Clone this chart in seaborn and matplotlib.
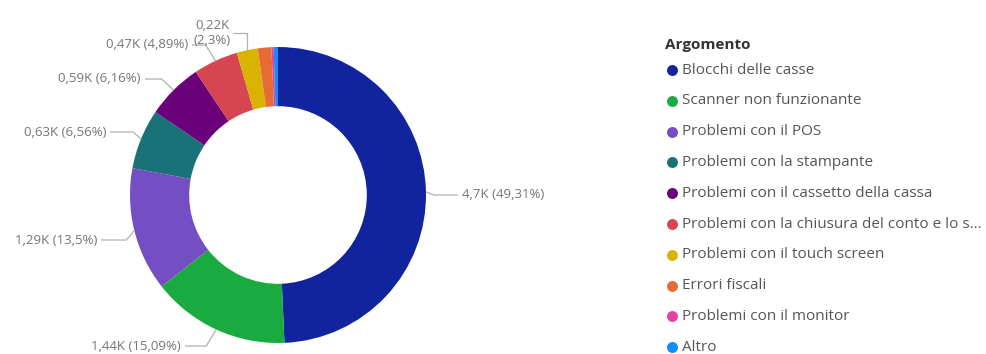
import numpy as np
import matplotlib
matplotlib.use("Agg")
import matplotlib.pyplot as plt
import seaborn as sns

# Ticket counts per topic, in thousands
categories = [
    "Blocchi delle casse",
    "Scanner non funzionante",
    "Problemi con il POS",
    "Problemi con la stampante",
    "Problemi con il cassetto della cassa",
    "Problemi con la chiusura del conto e lo s...",
    "Problemi con il touch screen",
    "Errori fiscali",
    "Problemi con il monitor",
    "Altro",
]
values_k = [4.699, 1.438, 1.287, 0.6256, 0.587, 0.466, 0.219, 0.140, 0.024, 0.0444]
colors = ["#12239E", "#1AAB40", "#744EC2", "#197278", "#6B007B",
          "#D64550", "#D9B300", "#E66C37", "#E044A7", "#118DFF"]
legend_title = "Argomento"

# Data-label placement (pixels): text edge x, text centre y, elbow offset, alignment
label_px = [(462, 195, 8, "left"), (181, 346, -10, "right"), (97, 240, -8, "right"),
            (106, 132, -8, "right"), (141, 79, -12, "right"), (188, 45, -10, "right"),
            (231, 33, 0, "right")]

sns.set_theme(style="white")
plt.rcParams["font.family"] = ["Open Sans", "DejaVu Sans"]
palette = sns.color_palette(colors)

W, H = 986, 354
CX, CY, R = 278, 195, 148  # donut centre and outer radius in pixels


def to_data(px, py):
    return (px - CX) / R, (CY - py) / R


fig = plt.figure(figsize=(W / 100, H / 100), dpi=100)
ax = fig.add_axes([0, 0, 1, 1])
wedges, _ = ax.pie(values_k, colors=palette, startangle=90, counterclock=False,
                   radius=1.0, wedgeprops=dict(width=0.4, linewidth=0))
ax.set_xlim(-CX / R, (W - CX) / R)
ax.set_ylim((CY - H) / R, CY / R)
ax.set_aspect("equal")
ax.axis("off")

total = sum(values_k)


def fmt(v, nd=2):
    s = f"{v:.{nd}f}".rstrip("0").rstrip(".")
    return s.replace(".", ",")


label_col = "#757575"
line_col = "#B0B0B0"
for i, (w, v) in enumerate(zip(wedges, values_k)):
    if i >= len(label_px):
        break
    ang = np.deg2rad((w.theta1 + w.theta2) / 2)
    ax_, ay_ = np.cos(ang) * 1.0, np.sin(ang) * 1.0
    tx, ty, dx, ha = label_px[i]
    txd, tyd = to_data(tx, ty)
    pct = v / total * 100
    text = f"{fmt(v)}K ({fmt(pct)}%)"
    if i == 6:
        text = f"{fmt(v)}K\n({fmt(pct)}%)"
    ax.text(txd, tyd, text, ha=ha, va="center", fontsize=9.5, color=label_col,
            multialignment="center")
    gap = 4 / R
    start_x = txd - gap if ha == "left" else txd + gap
    if i == 6:
        start_x = txd + 2 / R
    elbow_x = ax_ + dx / R
    ax.plot([start_x, elbow_x, ax_], [tyd, tyd, ay_], color=line_col, lw=0.9,
            solid_capstyle="butt")

# Legend drawn as markers and labels on the right-hand side
lx, ly = to_data(665, 45)
ax.text(lx, ly, legend_title, ha="left", va="center", fontsize=11,
        fontweight="bold", color="#333333")
for i, (name, c) in enumerate(zip(categories, palette)):
    py = 70 + 30.8 * i
    mx, my = to_data(672, py)
    ax.scatter([mx], [my], s=62, color=c, linewidths=0, zorder=3)
    tx, ty = to_data(682, py)
    ax.text(tx, ty, name, ha="left", va="center", fontsize=11, color="#555555")

fig.savefig("out.png", dpi=100)
